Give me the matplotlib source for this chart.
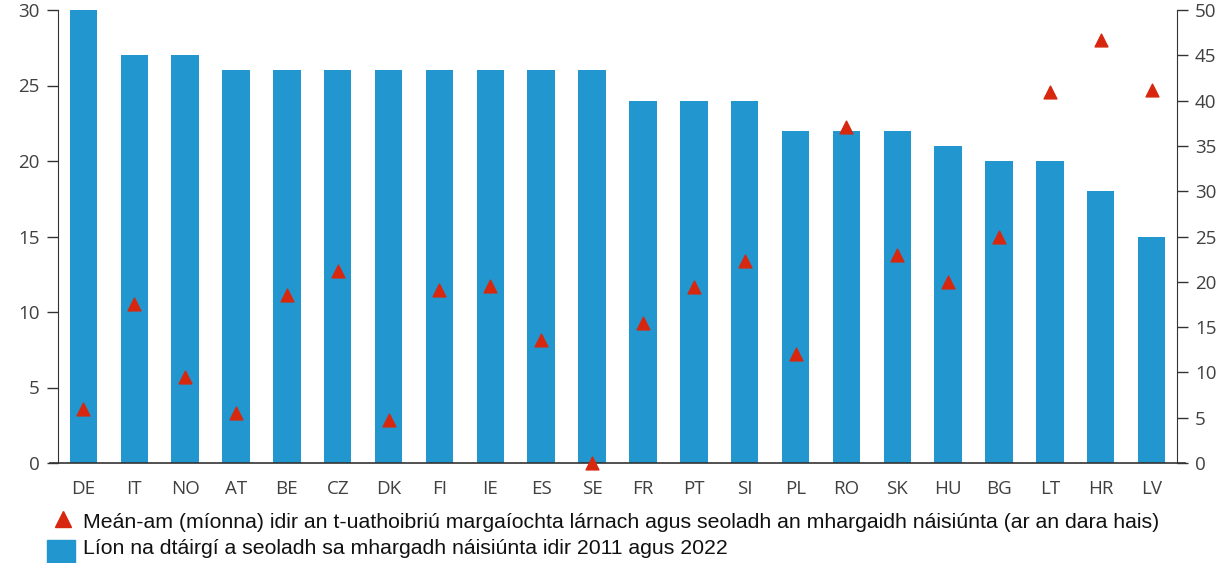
import matplotlib.pyplot as plt
from matplotlib.lines import Line2D
from matplotlib.patches import Rectangle

countries = ["DE", "IT", "NO", "AT", "BE", "CZ", "DK", "FI", "IE", "ES", "SE",
             "FR", "PT", "SI", "PL", "RO", "SK", "HU", "BG", "LT", "HR", "LV"]
# products launched on the national market 2011-2022 (left axis)
products = [30, 27, 27, 26, 26, 26, 26, 26, 26, 26, 26,
            24, 24, 24, 22, 22, 22, 21, 20, 20, 18, 15]
# mean time in months between central authorisation and national launch (right axis)
months = [6.0, 17.5, 9.5, 5.5, 18.5, 21.2, 4.8, 19.1, 19.5, 13.6, 0.0,
          15.4, 19.4, 22.3, 12.0, 37.1, 23.0, 20.0, 25.0, 41.0, 46.7, 41.2]

label_months = ("Meán-am (míonna) idir an t-uathoibriú margaíochta lárnach agus "
                "seoladh an mhargaidh náisiúnta (ar an dara hais)")
label_products = "Líon na dtáirgí a seoladh sa mhargadh náisiúnta idir 2011 agus 2022"

BLUE = "#2196cf"
RED = "#d7280f"
AXIS = "#333333"
TICK = "#404040"

fig = plt.figure(figsize=(12.29, 5.63), dpi=100)
ax = fig.add_axes([58 / 1229, 1 - 463 / 563, (1177 - 58) / 1229, (463 - 10) / 563])
ax2 = ax.twinx()

x = list(range(len(countries)))
ax.bar(x, products, width=0.54, color=BLUE, zorder=2)
ax2.scatter(x, months, marker="^", s=85, color=RED, zorder=3, clip_on=False)

ax.set_xlim(-0.5, len(countries) - 0.5)
ax.set_ylim(0, 30)
ax2.set_ylim(0, 50)
ax.set_yticks(range(0, 31, 5))
ax2.set_yticks(range(0, 51, 5))
ax.set_xticks(x)
ax.set_xticklabels(countries)

for lab in ax.get_xticklabels() + ax.get_yticklabels() + ax2.get_yticklabels():
    lab.set_fontfamily("Open Sans")
    lab.set_fontsize(13.5)
    lab.set_color(TICK)

ax.tick_params(axis="x", length=0, pad=12)
ax.tick_params(axis="y", direction="out", length=8, width=1, color=AXIS, pad=5)
ax2.tick_params(axis="y", direction="out", length=8, width=1, color=AXIS, pad=5)

for a in (ax, ax2):
    a.spines["top"].set_visible(False)
    a.spines["bottom"].set_visible(False)
    a.spines["left"].set_color(AXIS)
    a.spines["right"].set_color(AXIS)
ax2.spines["left"].set_visible(False)
ax.spines["right"].set_visible(False)

# baseline runs slightly past both vertical axes
ext = 8 / 1119
ax.add_line(Line2D([-ext, 1 + ext], [0, 0], transform=ax.transAxes,
                   color=AXIS, lw=1.2, clip_on=False, zorder=4))

# legend
leg_font = dict(family="Liberation Sans", size=15.3, color="#111111", va="center")
fig.add_artist(Line2D([63 / 1229], [1 - 519 / 563], marker="^", markersize=11,
                      color=RED, linestyle="none", transform=fig.transFigure))
fig.text(83 / 1229, 1 - 522 / 563, label_months, **leg_font)
fig.add_artist(Rectangle((47 / 1229, 0), 28 / 1229, 23 / 563, color=BLUE,
                         transform=fig.transFigure))
fig.text(83 / 1229, 1 - 548 / 563, label_products, **leg_font)

fig.savefig("out.png", dpi=100)
